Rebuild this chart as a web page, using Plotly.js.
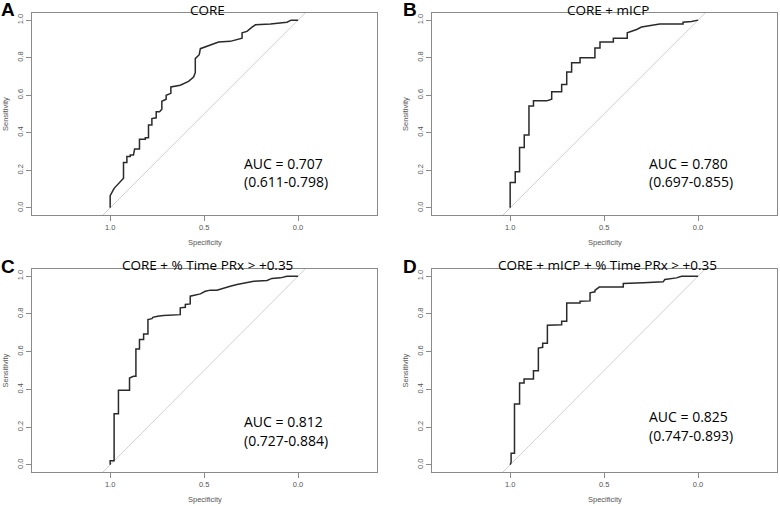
<!DOCTYPE html>
<html>
<head>
<meta charset="utf-8">
<script src="https://cdn.plot.ly/plotly-3.0.1.min.js"></script>
<style>html,body{margin:0;padding:0;background:#fff;}#chart{width:780px;height:506px;}</style>
</head>
<body>
<div id="chart"></div>
<script>
// ---- Data ----
const panelLetters = ["A", "B", "C", "D"];
const panelTitles = ["CORE", "CORE + mICP", "CORE + % Time PRx > +0.35", "CORE + mICP + % Time PRx > +0.35"];
const aucLabels = ["AUC = 0.707", "AUC = 0.780", "AUC = 0.812", "AUC = 0.825"];
const ciLabels = ["(0.611-0.798)", "(0.697-0.855)", "(0.727-0.884)", "(0.747-0.893)"];

const specA = [1.000,1.000,0.979,0.956,0.929,0.929,0.911,0.911,0.893,0.893,0.876,0.870,0.844,0.844,0.813,0.813,0.796,0.796,0.778,0.778,0.755,0.755,0.737,0.725,0.725,0.702,0.702,0.677,0.677,0.627,0.583,0.556,0.547,0.547,0.526,0.520,0.467,0.423,0.361,0.316,0.298,0.298,0.272,0.245,0.227,0.147,0.067,0.059,0.037,0.000];
const sensA = [0.000,0.065,0.104,0.131,0.158,0.242,0.242,0.273,0.273,0.281,0.281,0.313,0.313,0.365,0.365,0.373,0.373,0.441,0.441,0.476,0.480,0.512,0.512,0.525,0.568,0.579,0.600,0.610,0.644,0.653,0.674,0.697,0.720,0.795,0.816,0.848,0.865,0.883,0.887,0.901,0.904,0.933,0.940,0.963,0.975,0.979,0.986,0.989,1.000,1.000];

const specB = [1.000,1.000,0.973,0.973,0.950,0.950,0.925,0.925,0.900,0.900,0.876,0.876,0.805,0.779,0.779,0.726,0.726,0.699,0.699,0.673,0.673,0.628,0.628,0.549,0.549,0.522,0.522,0.451,0.451,0.377,0.377,0.354,0.327,0.301,0.257,0.204,0.080,0.080,0.035,0.009,0.000];
const sensB = [0.000,0.135,0.135,0.193,0.193,0.322,0.322,0.388,0.388,0.542,0.542,0.570,0.570,0.579,0.618,0.618,0.657,0.657,0.724,0.724,0.773,0.773,0.800,0.800,0.851,0.851,0.883,0.883,0.904,0.904,0.933,0.940,0.950,0.963,0.972,0.979,0.979,0.989,0.993,1.000,1.000];

const specC = [1.000,1.000,0.979,0.979,0.956,0.956,0.897,0.897,0.876,0.863,0.863,0.844,0.844,0.822,0.822,0.799,0.799,0.778,0.773,0.748,0.716,0.654,0.627,0.627,0.600,0.600,0.574,0.574,0.547,0.520,0.494,0.467,0.432,0.396,0.361,0.325,0.272,0.236,0.165,0.139,0.094,0.059,0.000];
const sensC = [0.000,0.021,0.021,0.271,0.271,0.395,0.395,0.460,0.469,0.469,0.614,0.614,0.664,0.664,0.694,0.694,0.770,0.775,0.782,0.788,0.791,0.796,0.796,0.832,0.835,0.850,0.853,0.894,0.899,0.906,0.920,0.926,0.926,0.938,0.947,0.956,0.965,0.973,0.977,0.988,0.991,1.000,1.000];

const specD = [1.000,0.995,0.995,0.977,0.977,0.950,0.950,0.926,0.926,0.876,0.876,0.850,0.850,0.827,0.827,0.802,0.802,0.761,0.726,0.726,0.699,0.699,0.628,0.628,0.575,0.575,0.549,0.549,0.526,0.398,0.398,0.292,0.186,0.177,0.115,0.088,0.000];
const sensD = [0.000,0.014,0.062,0.062,0.322,0.322,0.434,0.434,0.455,0.455,0.499,0.499,0.619,0.623,0.644,0.644,0.740,0.743,0.743,0.761,0.761,0.858,0.858,0.867,0.869,0.912,0.917,0.925,0.942,0.942,0.961,0.965,0.970,0.982,0.991,1.000,1.000];

const chanceSpec = [1.04, -0.04];
const chanceSens = [-0.04, 1.04];

const xTickVals = [1, 0.5, 0];
const xTickText = ["1.0", "0.5", "0.0"];
const yTickVals = [0, 0.2, 0.4, 0.6, 0.8, 1.0];
const yTickText = ["0.0", "0.2", "0.4", "0.6", "0.8", "1.0"];

// ---- Layout helpers ----
const W = 780, H = 506;
const px = v => v / W;
const py = v => 1 - v / H;

const specs = [specA, specB, specC, specD];
const senss = [sensA, sensB, sensC, sensD];

const xDomains = [[32, 377], [432, 777], [32, 377], [432, 777]];
const yDomains = [[13, 215], [13, 215], [269, 472], [269, 472]];

const traces = [];
const layout = {
  width: W, height: H,
  margin: {l: 0, r: 0, t: 0, b: 0},
  paper_bgcolor: "#fff", plot_bgcolor: "#fff",
  showlegend: false,
  annotations: []
};

for (let i = 0; i < 4; i++) {
  const xa = i === 0 ? "x" : "x" + (i + 1);
  const ya = i === 0 ? "y" : "y" + (i + 1);
  traces.push({
    x: chanceSpec, y: chanceSens, xaxis: xa, yaxis: ya,
    mode: "lines", line: {color: "#d0d0d0", width: 1}, hoverinfo: "skip"
  });
  traces.push({
    x: specs[i], y: senss[i], xaxis: xa, yaxis: ya,
    mode: "lines", line: {color: "#2a2a2a", width: 1.5}
  });
  const axBase = {
    showgrid: false, zeroline: false,
    showline: true, mirror: true, linecolor: "#8a8a8a", linewidth: 1,
    ticks: "outside", ticklen: 5, tickcolor: "#8a8a8a", tickwidth: 1,
    tickfont: {family: "Liberation Sans, Arial, sans-serif", size: 7.5, color: "#555"}
  };
  layout["xaxis" + (i === 0 ? "" : i + 1)] = Object.assign({}, axBase, {
    domain: [px(xDomains[i][0]), px(xDomains[i][1])],
    range: [1.416, -0.42], anchor: ya,
    tickmode: "array", tickvals: xTickVals, ticktext: xTickText
  });
  layout["yaxis" + (i === 0 ? "" : i + 1)] = Object.assign({}, axBase, {
    domain: [py(yDomains[i][1]), py(yDomains[i][0])],
    range: [-0.038, 1.038], anchor: xa,
    tickmode: "array", tickvals: yTickVals, ticktext: yTickText, tickangle: -90
  });

  const cx = (xDomains[i][0] + xDomains[i][1]) / 2;
  const cy = (yDomains[i][0] + yDomains[i][1]) / 2;
  // Panel letter
  layout.annotations.push({
    xref: "paper", yref: "paper", x: px(xDomains[i][0] - 32 + (i % 2 ? 2 : 0)), y: py(yDomains[i][0] - 3),
    xanchor: "left", yanchor: "middle", showarrow: false, borderpad: 0,
    text: "<b>" + panelLetters[i] + "</b>",
    font: {family: "Liberation Sans, Arial, sans-serif", size: 19, color: "#000"}
  });
  // Title
  if (i < 2) {
    layout.annotations.push({
      xref: "paper", yref: "paper", x: px(cx + 3), y: 1,
      xanchor: "center", yanchor: "top", showarrow: false, borderpad: 0,
      text: panelTitles[i],
      font: {family: "Open Sans, sans-serif", size: 13.5, color: "#000"}
    });
  } else {
    layout.annotations.push({
      xref: "paper", yref: "paper", x: px(cx + 3), y: py(yDomains[i][0] - 4),
      xanchor: "center", yanchor: "middle", showarrow: false, borderpad: 0,
      text: panelTitles[i],
      font: {family: "Open Sans, sans-serif", size: 13.5, color: "#000"}
    });
  }
  // AUC text
  const aucX = i % 2 ? 646.7 : 241.7;
  const aucY = [163, 163, 421, 416][i];
  layout.annotations.push({
    xref: "paper", yref: "paper", x: px(aucX), y: py(aucY),
    xanchor: "left", yanchor: "middle", showarrow: false,
    text: aucLabels[i],
    font: {family: "Open Sans, sans-serif", size: 14, color: "#000"}
  });
  layout.annotations.push({
    xref: "paper", yref: "paper", x: px(aucX), y: py(aucY + 19),
    xanchor: "left", yanchor: "middle", showarrow: false,
    text: ciLabels[i],
    font: {family: "Open Sans, sans-serif", size: 14, color: "#000"}
  });
  // Axis titles
  layout.annotations.push({
    xref: "paper", yref: "paper", x: px(cx), y: py(yDomains[i][1] + 27.5),
    xanchor: "center", yanchor: "middle", showarrow: false,
    text: "Specificity",
    font: {family: "Liberation Sans, Arial, sans-serif", size: 7.5, color: "#555"}
  });
  layout.annotations.push({
    xref: "paper", yref: "paper", x: px(xDomains[i][0] - 27), y: py(cy),
    xanchor: "center", yanchor: "middle", showarrow: false, textangle: -90,
    text: "Sensitivity",
    font: {family: "Liberation Sans, Arial, sans-serif", size: 7.5, color: "#555"}
  });
}

Plotly.newPlot("chart", traces, layout, {displayModeBar: false, staticPlot: true});
</script>
</body>
</html>
